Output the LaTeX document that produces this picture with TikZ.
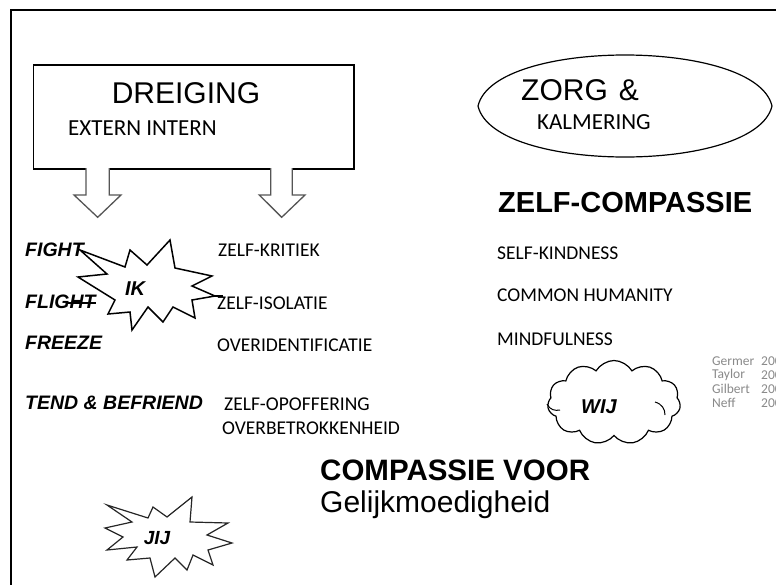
\documentclass[tikz,border=0pt]{standalone}
\usepackage{fontspec}
\setmainfont{Liberation Sans}
\newfontfamily\carl{Carlito}
\usetikzlibrary{shapes.geometric,shapes.symbols}
\definecolor{refgray}{HTML}{8A8A8A}
\definecolor{arrgray}{HTML}{555555}
\begin{document}
\begin{tikzpicture}[x=1pt,y=-1pt,
  lbl/.style={anchor=west,inner sep=0pt,font=\carl\fontsize{19.5}{22}\selectfont},
  resp/.style={anchor=west,inner sep=0pt,font=\bfseries\itshape\fontsize{19.5}{22}\selectfont},
  sub/.style={anchor=west,inner sep=0pt,font=\carl\fontsize{23}{26}\selectfont},
  refs/.style={anchor=west,inner sep=0pt,text=refgray,font=\carl\fontsize{13.5}{14}\selectfont},
  blockarrow/.style={draw=arrgray,line width=1.3pt,fill=white,line join=miter},
  starline/.style={draw=black,line width=1.5pt,line join=miter,fill=white},
  tag/.style={inner sep=0pt,font=\bfseries\itshape\fontsize{20}{22}\selectfont}]
\useasboundingbox (0,0) rectangle (776,584);
\clip (0,0) rectangle (776,584);
\fill[white] (0,0) rectangle (776,584);
\draw[line width=2.5pt] (11,10) rectangle (800,610);

% DREIGING box
\node[draw,line width=1.6pt,minimum width=320.5,minimum height=104,inner sep=0pt,anchor=north west] (box) at (32.5,64) {};
\node[inner sep=0pt,font=\fontsize{30}{34}\selectfont] (dreiging) at (186,93) {DREIGING};
\node[sub] (extern) at (68,128) {EXTERN INTERN};

% block arrows
\draw[blockarrow] (86,168) -- (86,195) -- (74,195) -- (97.7,217.3) -- (121,195) -- (109.3,195) -- (109.3,168);
\draw[blockarrow] (270.7,168) -- (270.7,195) -- (259.3,195) -- (281.7,217.3) -- (305,195) -- (292.3,195) -- (292.3,168);

% ZORG shape (slightly pointed ellipse)
\coordinate (zorg) at (625,106);
\draw[line width=1.2pt] (478,106) .. controls (486,72) and (555,55) .. (625,55)
  .. controls (695,55) and (764,72) .. (772,106)
  .. controls (764,140) and (695,157) .. (625,157)
  .. controls (555,157) and (486,140) .. (478,106) -- cycle;
\node[anchor=west,inner sep=0pt,font=\fontsize{30}{34}\selectfont] (zorgtxt) at (521,90) {ZORG\hspace{11pt}\&};
\node[sub] (kalm) at (537,122) {KALMERING};

% left column
\node[resp] (fight) at (25,250) {FIGHT};
\node[resp] (flight) at (25,302) {FLIGHT};
\node[resp] (freeze) at (25,343) {FREEZE};
\node[resp] (tend) at (25,403) {TEND \& BEFRIEND};

% IK star
\draw[starline] (80,250) -- (125,267) -- (130,250) -- (147,265) -- (170,240) -- (175,268)
  -- (212,276) -- (192,286) -- (215,296) -- (192,300) -- (195,318) -- (173,307)
  -- (163,322) -- (148,307) -- (132,330) -- (130,312) -- (108,314) -- (115,300)
  -- (78,277) -- (107,274) -- cycle;
\draw[line width=1.3pt] (215,296) -- (223,296);
\draw[line width=1.3pt] (68,303) -- (96,303);
\node[tag] (ik) at (135,289) {IK};

% middle column
\node[lbl] (kritiek) at (218,250) {ZELF-KRITIEK};
\node[lbl] (isolatie) at (217,303) {ZELF-ISOLATIE};
\node[lbl] (overid) at (217,345) {OVERIDENTIFICATIE};
\node[lbl] (opoff) at (224,404) {ZELF-OPOFFERING};
\node[lbl] (overbet) at (222,428) {OVERBETROKKENHEID};

% right column
\node[anchor=west,inner sep=0pt,font=\bfseries\fontsize{29}{33}\selectfont] (zc) at (498,203) {ZELF-COMPASSIE};
\node[lbl] (sk) at (497,253) {SELF-KINDNESS};
\node[lbl] (ch) at (497,295) {COMMON HUMANITY};
\node[lbl] (mf) at (497,339) {MINDFULNESS};

% cloud
\node[cloud,draw,line width=1.2pt,cloud puffs=11,cloud puff arc=120,aspect=1.6,minimum width=133,minimum height=84,inner sep=0pt] (cloud) at (614,402.5) {};
\draw[line width=1pt] (547,404) .. controls (550,410) and (555,411) .. (560,410);
\draw[line width=1pt] (655,402) .. controls (662,404) and (665,409) .. (665,415);
\node[tag] (wij) at (599,407) {WIJ};

% references
\node[refs] (r1) at (712,361) {Germer};
\node[refs] (r2) at (712,375) {Taylor};
\node[refs] (r3) at (712,389) {Gilbert};
\node[refs] (r4) at (712,403) {Neff};
\node[refs] (y1) at (761,361) {200};
\node[refs] (y2) at (761,375) {200};
\node[refs] (y3) at (761,389) {200};
\node[refs] (y4) at (761,403) {200};

% bottom
\node[anchor=base west,inner sep=0pt,font=\bfseries\fontsize{29.5}{33}\selectfont] (cv) at (320,480) {COMPASSIE VOOR};
\node[anchor=base west,inner sep=0pt,font=\fontsize{30}{34}\selectfont] (gelijk) at (320,512.7) {Gelijkmoedigheid};

% JIJ star
\draw[starline,draw=black!85,line width=1.2pt] (107,505) -- (148,518) -- (153,507) -- (167,517) -- (192,497) -- (190,522)
  -- (228,523) -- (207,535) -- (232,543) -- (208,550) -- (213,565) -- (193,555)
  -- (187,570) -- (175,558) -- (155,577) -- (150,558) -- (127,560) -- (137,547)
  -- (107,550) -- (123,537) -- (105,528) -- (132,522) -- cycle;
\node[tag,font=\bfseries\itshape\fontsize{19}{22}\selectfont] (jij) at (157,538) {JIJ};
\end{tikzpicture}
\end{document}
